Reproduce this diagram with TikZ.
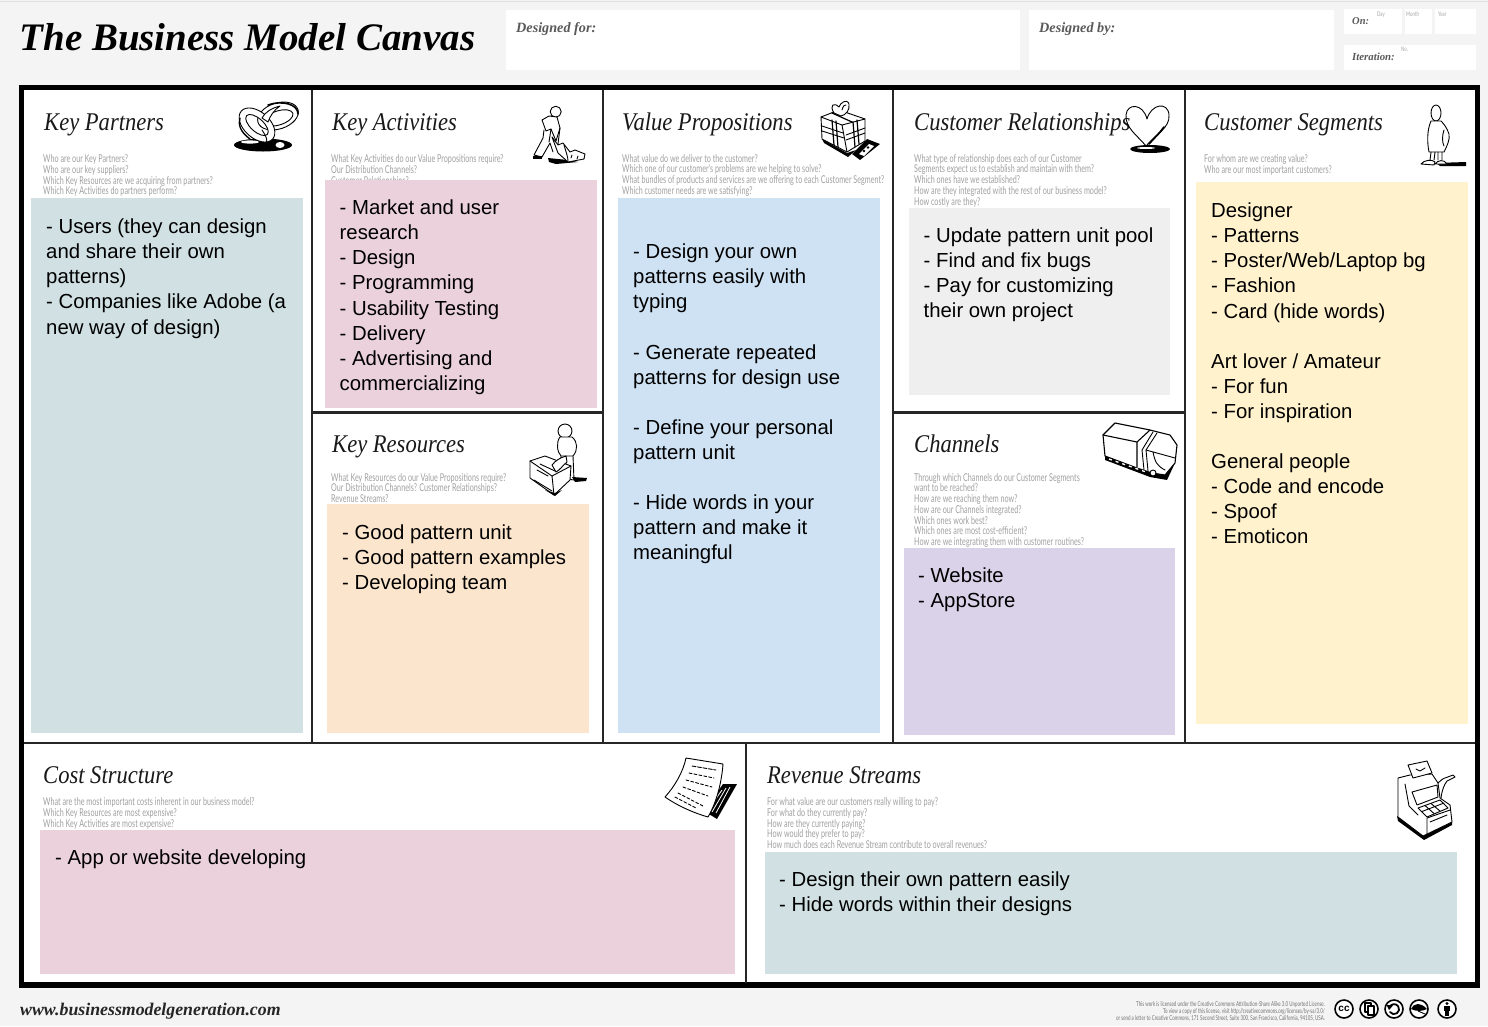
\documentclass[tikz,border=0pt]{standalone}
\usepackage{fontspec}
\setmainfont{Liberation Serif}
\newfontfamily\bodyfont{Liberation Sans}
\newfontfamily\headfont[FakeStretch=0.885]{Liberation Serif}
\newfontfamily\qfont[FakeStretch=0.665]{Lato}
\definecolor{pagebg}{HTML}{F4F4F4}
\definecolor{cteal}{HTML}{D0E0E3}
\definecolor{cpink}{HTML}{EAD1DC}
\definecolor{corange}{HTML}{FCE5CD}
\definecolor{cblue}{HTML}{CFE2F3}
\definecolor{cgrey}{HTML}{EFEFEF}
\definecolor{cpurple}{HTML}{D9D2E9}
\definecolor{cyellow}{HTML}{FFF2CC}
\definecolor{qgrey}{HTML}{A0A0A0}
\tikzset{
  sk/.style={draw=black,line width=0.9pt,line join=round,line cap=round},
  skw/.style={sk,fill=white},
  ink/.style={fill=black},
  divider/.style={draw=black!85,line width=2.6pt},
  headbox/.style={fill=white,draw=none},
  bodytxt/.style={anchor=north west,inner sep=0pt,align=left,text=black,font=\bodyfont\fontsize{20.35}{25.08}\selectfont},
  headtxt/.style={anchor=base west,inner sep=0pt,text=black!90,font=\headfont\itshape\fontsize{25.5}{28}\selectfont},
  qtxt/.style={anchor=north west,inner sep=0pt,align=left,text=qgrey,font=\qfont\fontsize{10.8}{10.75}\selectfont},
  labeltxt/.style={anchor=base west,inner sep=0pt,text=black!65,font=\bfseries\itshape\fontsize{14.2}{16}\selectfont},
  ticktxt/.style={anchor=base west,inner sep=0pt,text=black!35,font=\qfont\fontsize{6.5}{7}\selectfont},
  ccring/.style={draw=black,line width=1.6pt,fill=white},
}
\newcommand{\ltr}{\rule{0pt}{17.5pt}}
\begin{document}
\begin{tikzpicture}[x=1pt,y=-1pt]
\useasboundingbox (0,0) rectangle (1488,1026);
\fill[pagebg] (0,0) rectangle (1488,1026);
\draw[black!12,line width=0.8pt] (0,1) -- (1488,1);
% header
\node[anchor=base west,inner sep=0pt,text=black,font=\bfseries\itshape\fontsize{38.95}{41}\selectfont] (title) at (19.5,50) {The Business Model Canvas};
\fill[headbox] (506,10) rectangle (1020,70);
\fill[headbox] (1029,10) rectangle (1334,70);
\fill[headbox] (1344,9) rectangle (1402,34);
\fill[headbox] (1405,9) rectangle (1432,34);
\fill[headbox] (1435,9) rectangle (1476,34);
\fill[headbox] (1344,45) rectangle (1476,70);
\node[labeltxt] (dfor) at (516,32.5) {Designed for:};
\node[labeltxt] (dby) at (1039,32.5) {Designed by:};
\node[labeltxt,font=\bfseries\itshape\fontsize{10.5}{12}\selectfont] (on) at (1352,24) {On:};
\node[labeltxt,font=\bfseries\itshape\fontsize{10.8}{12}\selectfont] (iter) at (1352,60) {Iteration:};
\node[ticktxt] (tday) at (1377,16) {Day};
\node[ticktxt] (tmonth) at (1406,16) {Month};
\node[ticktxt] (tyear) at (1438,16) {Year};
\node[ticktxt] (tno) at (1401,51) {No.};
% frame
\fill[white] (21,88) rectangle (1477,985);
\draw[black,line width=5.5pt] (21.5,87.5) rectangle (1477.5,985);
\draw[divider] (312,90) -- (312,743);
\draw[divider] (603,90) -- (603,743);
\draw[divider] (893,90) -- (893,743);
\draw[divider] (1185,90) -- (1185,743);
\draw[divider] (312,412.5) -- (603,412.5);
\draw[divider] (893,412.5) -- (1185,412.5);
\draw[divider] (24,743) -- (1475,743);
\draw[divider] (746,743) -- (746,983);
% headings
\node[headtxt] (h1) at (44,130) {Key Partners};
\node[headtxt] (h2) at (332,130) {Key Activities};
\node[headtxt] (h3) at (622,130) {Value Propositions};
\node[headtxt] (h4) at (914,130) {Customer Relationships};
\node[headtxt] (h5) at (1204,130) {Customer Segments};
\node[headtxt] (h6) at (332,452) {Key Resources};
\node[headtxt] (h7) at (914,452) {Channels};
\node[headtxt] (h8) at (43,783) {Cost Structure};
\node[headtxt] (h9) at (767,783) {Revenue Streams};
% questions
\node[qtxt] (q1) at (43,154.5) {Who are our Key Partners?\\Who are our key suppliers?\\Which Key Resources are we acquiring from partners?\\Which Key Activities do partners perform?};
\node[qtxt] (q2) at (331,154.5) {What Key Activities do our Value Propositions require?\\Our Distribution Channels?\\Customer Relationships?};
\node[qtxt] (q3) at (622,154) {What value do we deliver to the customer?\\Which one of our customer's problems are we helping to solve?\\What bundles of products and services are we offering to each Customer Segment?\\Which customer needs are we satisfying?};
\node[qtxt] (q4) at (914,154) {What type of relationship does each of our Customer\\Segments expect us to establish and maintain with them?\\Which ones have we established?\\How are they integrated with the rest of our business model?\\How costly are they?};
\node[qtxt] (q5) at (1204,154.5) {For whom are we creating value?\\Who are our most important customers?};
\node[qtxt] (q6) at (331,473) {What Key Resources do our Value Propositions require?\\Our Distribution Channels? Customer Relationships?\\Revenue Streams?};
\node[qtxt] (q7) at (914,473) {Through which Channels do our Customer Segments\\want to be reached?\\How are we reaching them now?\\How are our Channels integrated?\\Which ones work best?\\Which ones are most cost-efficient?\\How are we integrating them with customer routines?};
\node[qtxt] (q8) at (43,797.5) {What are the most important costs inherent in our business model?\\Which Key Resources are most expensive?\\Which Key Activities are most expensive?};
\node[qtxt] (q9) at (767,797.5) {For what value are our customers really willing to pay?\\For what do they currently pay?\\How are they currently paying?\\How would they prefer to pay?\\How much does each Revenue Stream contribute to overall revenues?};
% coloured panels
\fill[cteal] (31,198) rectangle (303,733);
\fill[cpink] (325,180) rectangle (597,408);
\fill[corange] (327,504) rectangle (589,733);
\fill[cblue] (618,198) rectangle (880,733);
\fill[cgrey] (909,208) rectangle (1170,395);
\fill[cpurple] (904,548) rectangle (1175,735);
\fill[cyellow] (1196,182) rectangle (1468,724);
\fill[cpink] (40,830) rectangle (735,974);
\fill[cteal] (765,852) rectangle (1457,974);
% body text
\node[bodytxt] (b1) at (46,216) {\ltr- Users (they can design\\\ltr and share their own\\\ltr patterns)\\\ltr- Companies like Adobe (a\\\ltr new way of design)};
\node[bodytxt] (b2) at (339.5,197) {\ltr- Market and user\\\ltr research\\\ltr- Design\\\ltr- Programming\\\ltr- Usability Testing\\\ltr- Delivery\\\ltr- Advertising and\\\ltr commercializing};
\node[bodytxt] (b3) at (342,522) {\ltr- Good pattern unit\\\ltr- Good pattern examples\\\ltr- Developing team};
\node[bodytxt] (b4) at (633,241) {\ltr- Design your own\\\ltr patterns easily with\\\ltr typing\\\ltr\\\ltr- Generate repeated\\\ltr patterns for design use\\\ltr\\\ltr- Define your personal\\\ltr pattern unit\\\ltr\\\ltr- Hide words in your\\\ltr pattern and make it\\\ltr meaningful};
\node[bodytxt] (b5) at (923.5,225) {\ltr- Update pattern unit pool\\\ltr- Find and fix bugs\\\ltr- Pay for customizing\\\ltr their own project};
\node[bodytxt] (b6) at (918,565) {\ltr- Website\\\ltr- AppStore};
\node[bodytxt] (b7) at (1211,200) {\ltr Designer\\\ltr- Patterns\\\ltr- Poster/Web/Laptop bg\\\ltr- Fashion\\\ltr- Card (hide words)\\\ltr\\\ltr Art lover / Amateur\\\ltr- For fun\\\ltr- For inspiration\\\ltr\\\ltr General people\\\ltr- Code and encode\\\ltr- Spoof\\\ltr- Emoticon};
\node[bodytxt] (b8) at (55,847) {\ltr- App or website developing};
\node[bodytxt] (b9) at (779,869) {\ltr- Design their own pattern easily\\\ltr- Hide words within their designs};
% --- icon: rings
\fill[ink] (263,145) ellipse [x radius=29,y radius=6.5];
\fill[white] (280,145) ellipse [x radius=4.5,y radius=3];
\fill[white] (250,142) ellipse [x radius=9,y radius=1.6];
\draw[skw,even odd rule,rotate around={18:(278,116)}] (278,116) ellipse [x radius=21,y radius=13] (278,118) ellipse [x radius=15,y radius=7];
\draw[skw,even odd rule,rotate around={-42:(257,125)}] (257,125) ellipse [x radius=21,y radius=13] (257,125) ellipse [x radius=14,y radius=6.5];
\draw[skw] (262,118) .. controls (265,112) and (272,108) .. (280,106) .. controls (274,110) and (270,116) .. (268,122) -- cycle;
\draw[sk,line width=1.6pt] (268,105) .. controls (282,100) and (298,104) .. (298,114);
\draw[sk,line width=1.4pt] (240,118) .. controls (238,124) and (240,132) .. (250,139);
\draw[sk] (262,130) .. controls (266,136) and (268,140) .. (266,143);
% --- icon: key activities
\fill[ink] (548,158) -- (568,160) -- (578,162) -- (556,164) -- (549,162) -- cycle;
\fill[ink] (533,156) -- (542,156) -- (542,158.5) -- (533,158.5) -- cycle;
\draw[skw] (555.7,111.7) circle [radius=5.5];
\draw[skw] (549,116) -- (542,120) -- (546,131) -- (551,129) -- (556,141) -- (560,128) -- (557,117) -- cycle;
\draw[sk] (544,130) -- (543,138) -- (534,155) -- (542,157) -- (550,143) -- (553,152);
\draw[sk] (551,129) -- (549,142);
\draw[sk] (560,128) -- (558,144);
\draw[skw] (552,137) -- (558,153) -- (568,162) -- (584,159) -- (585,154) -- (575,150) -- (570,152) -- (563,143) -- (558,145) -- cycle;
\draw[sk] (564,145) .. controls (566,152) and (568,157) .. (568,161) (572,155) -- (571,158) (578,156) -- (577,159);
% --- icon: gift
\fill[ink] (822,139) -- (847,153) -- (856,150) -- (848,157) -- (824,143) -- cycle;
\draw[skw] (821,117) -- (839,110) -- (865,119) -- (865,141) -- (847,152) -- (822,139) -- cycle;
\draw[sk] (821,117) -- (842,125) -- (865,119) (842,125) -- (847,152);
\draw[sk,line width=1.2pt] (832,113) -- (852,122) (832,120) -- (834,145) (836,121) -- (838,147) (853,122) -- (855,147) (857,120) -- (859,144);
\draw[sk] (822,126) -- (843,133) (822,131) -- (844,138) (846,135) -- (865,128) (846,140) -- (865,133);
\draw[skw] (834,113) .. controls (829,105) and (834,102) .. (839,107) .. controls (840,103) and (847,98) .. (849,104) .. controls (850,110) and (846,115) .. (841,116) -- cycle;
\draw[sk] (842,110) .. controls (843,106) and (845,104) .. (846,105);
\fill[ink] (852,154) -- (867,139) -- (880,144) -- (860,160) -- cycle;
\fill[white] (859,154) -- (869,144) -- (874,146) -- (864,156) -- cycle;
\fill[ink] (864,151) circle [radius=1.3] (868,147.5) circle [radius=1.3];
% --- icon: heart
\fill[ink] (1150,149) ellipse [x radius=20,y radius=4];
\fill[white] (1146,148) ellipse [x radius=9,y radius=1];
\draw[sk] (1146,146) .. controls (1138,136) and (1125,128) .. (1126,115) .. controls (1127,103) and (1143,103) .. (1147,119) .. controls (1151,104) and (1168,101) .. (1169,115) .. controls (1170,128) and (1156,134) .. (1146,146);
\draw[sk,line width=1.8pt] (1149,144) .. controls (1154,138) and (1160,133) .. (1164,127);
% --- icon: customer segment person
\fill[ink] (1436,163) -- (1466,162) -- (1466,166) -- (1440,166) -- cycle;
\draw[skw] (1436,113) ellipse [x radius=5,y radius=8];
\draw[skw] (1431,121) .. controls (1427,130) and (1427,142) .. (1429,152) -- (1444,152) .. controls (1447,146) and (1450,140) .. (1449,134) .. controls (1447,128) and (1444,124) .. (1441,121) -- cycle;
\draw[sk] (1444,130) .. controls (1442,136) and (1442,142) .. (1444,146);
\draw[sk] (1431,152) -- (1430,160) (1435,152) -- (1434,160) (1438,152) -- (1438,160) (1442,152) -- (1442,160);
\draw[skw] (1421,164) .. controls (1424,160) and (1432,159) .. (1435,162) -- (1434,165) -- cycle;
\draw[skw] (1435,164) .. controls (1438,160) and (1444,159) .. (1447,164) -- cycle;
% --- icon: key resources
\fill[ink] (572,477) -- (587,478) -- (586,481) -- (575,482) -- cycle;
\draw[skw] (565,431) circle [radius=7];
\draw[skw] (560,437) .. controls (556,442) and (557,452) .. (561,456) -- (573,456) .. controls (578,450) and (578,442) .. (572,437) -- cycle;
\draw[sk] (561,456) -- (560,478) -- (574,480) -- (573,456) (566,458) -- (566,478);
\draw[skw] (530,461) -- (545,456) -- (571,466) -- (570,480) -- (554,495) -- (530,478) -- cycle;
\draw[sk] (530,461) -- (552,476) -- (571,466) (552,476) -- (554,495);
\draw[sk] (540,464) -- (555,471) (537,470) -- (548,476) (534,480) -- (552,491);
\draw[skw] (552,465) .. controls (556,460) and (560,458) .. (566,456) -- (567,462) .. controls (563,465) and (560,470) .. (556,472) -- cycle;
\fill[ink] (545,490) -- (555,496) -- (562,490) -- (555,493) -- cycle;
% --- icon: truck
\fill[ink] (1105,456) -- (1150,471) -- (1165,475) -- (1175,463) -- (1167,480) -- (1150,477) -- (1105,460) -- cycle;
\draw[skw,line width=1.1pt] (1103,435) -- (1115,423) -- (1150,430) -- (1170,435) -- (1177,445) -- (1175,463) -- (1165,475) -- (1152,473) -- (1137,468) -- (1105,456) -- cycle;
\draw[sk,line width=1.1pt] (1103,435) -- (1137,442) -- (1150,430) (1137,442) -- (1137,467);
\draw[sk] (1142,450) -- (1153,432) (1146,450) -- (1157,433) (1142,450) -- (1144,470) (1146,450) -- (1148,471);
\draw[sk] (1146,450) -- (1175,458) (1153,452) .. controls (1155,462) and (1157,466) .. (1165,470);
\draw[skw] (1153,473) circle [radius=3];
\draw[white,line width=1.3pt,dash pattern=on 3pt off 4pt] (1109,459) -- (1146,472);
% --- icon: cost sheets
\fill[ink] (723,784) -- (737,784) -- (717,819) -- (704,811) -- cycle;
\draw[white,line width=0.8pt] (726,788) -- (712,812) (730,787) -- (716,813) (722,790) -- (708,810);
\draw[skw] (686,758) -- (723,764) .. controls (722,778) and (718,800) .. (708,817) .. controls (694,813) and (678,806) .. (665,797) .. controls (675,786) and (683,772) .. (686,758) -- cycle;
\draw[sk,dash pattern=on 4pt off 1.5pt] (692,766) -- (716,770);
\draw[sk,dash pattern=on 3pt off 2pt] (689,773) -- (714,778) (686,780) -- (712,787) (683,787) -- (708,796) (678,793) -- (703,806) (675,797) -- (696,808);
% --- icon: cash register
\fill[ink] (1397,816) -- (1423,835) -- (1452,822) -- (1452,825) -- (1424,840) -- (1398,821) -- cycle;
\draw[skw] (1398,778) -- (1410,775) -- (1432,774) -- (1438,783) -- (1440,798) -- (1450,805) -- (1452,822) -- (1423,836) -- (1398,817) -- cycle;
\draw[skw] (1408,765) -- (1427,761) -- (1432,773) -- (1413,778) -- cycle;
\draw[sk] (1416,769) -- (1420,771) -- (1425,768);
\draw[skw] (1412,792) -- (1437,785) -- (1438,797) -- (1417,805) -- cycle;
\draw[sk] (1405,784) -- (1409,806) -- (1418,815);
\draw[skw] (1418,808) -- (1440,800) -- (1448,808) -- (1427,817) -- cycle;
\draw[sk] (1425,805.5) -- (1434,813.5) (1431,803.5) -- (1440,811) (1422,811.5) -- (1444,803);
\draw[sk] (1427,818) -- (1450,810) (1427,818) -- (1427,835) (1430,822) -- (1447,815);
\draw[sk] (1438,783) .. controls (1441,780) and (1444,778) .. (1445,778) -- (1453,775) -- (1455,777) -- (1447,781) .. controls (1444,785) and (1442,790) .. (1441,798);
% footer
\node[anchor=base west,inner sep=0pt,text=black!85,font=\bfseries\itshape\fontsize{17.8}{19}\selectfont] (url) at (20,1015) {www.businessmodelgeneration.com};
\node[anchor=north east,inner sep=0pt,align=right,text=black!55,font=\qfont\fontsize{6.7}{6}\selectfont] (lic) at (1325,1001) {This work is licensed under the Creative Commons Attribution-Share Alike 3.0 Unported License.\\To view a copy of this license, visit http://creativecommons.org/licenses/by-sa/3.0/\\or send a letter to Creative Commons, 171 Second Street, Suite 300, San Francisco, California, 94105, USA.};
\node[ccring,circle,minimum size=18pt,inner sep=0pt,font=\bodyfont\bfseries\fontsize{10}{10}\selectfont] (cc) at (1344,1009) {cc};
\node[ccring,circle,minimum size=18pt,inner sep=0pt] (cc2) at (1369,1009) {};
\draw[sk,line width=1.1pt] (1365,1003) rectangle (1371,1012);
\draw[skw,line width=1.1pt] (1368,1006) rectangle (1374,1015);
\node[ccring,circle,minimum size=18pt,inner sep=0pt] (cc3) at (1394,1009) {};
\draw[sk,line width=1.8pt] (1390,1012) arc [start angle=145,end angle=-150,radius=5];
\fill[ink] (1386.5,1005) -- (1393,1005.5) -- (1389,1010) -- cycle;
\node[ccring,circle,minimum size=18pt,inner sep=0pt] (cc4) at (1419,1009) {};
\fill[ink] (1411,1009) .. controls (1413,1003) and (1421,1002) .. (1427,1009) .. controls (1423,1011) and (1417,1012) .. (1411,1009) -- cycle;
\draw[sk] (1418,1011) -- (1425,1014);
\node[ccring,circle,minimum size=18pt,inner sep=0pt] (cc5) at (1447,1009) {};
\fill[ink] (1447,1003.5) circle [radius=1.7];
\fill[ink] (1444,1006) rectangle (1450,1011);
\fill[ink] (1445.3,1010) rectangle (1448.7,1015.5);
\end{tikzpicture}
\end{document}
